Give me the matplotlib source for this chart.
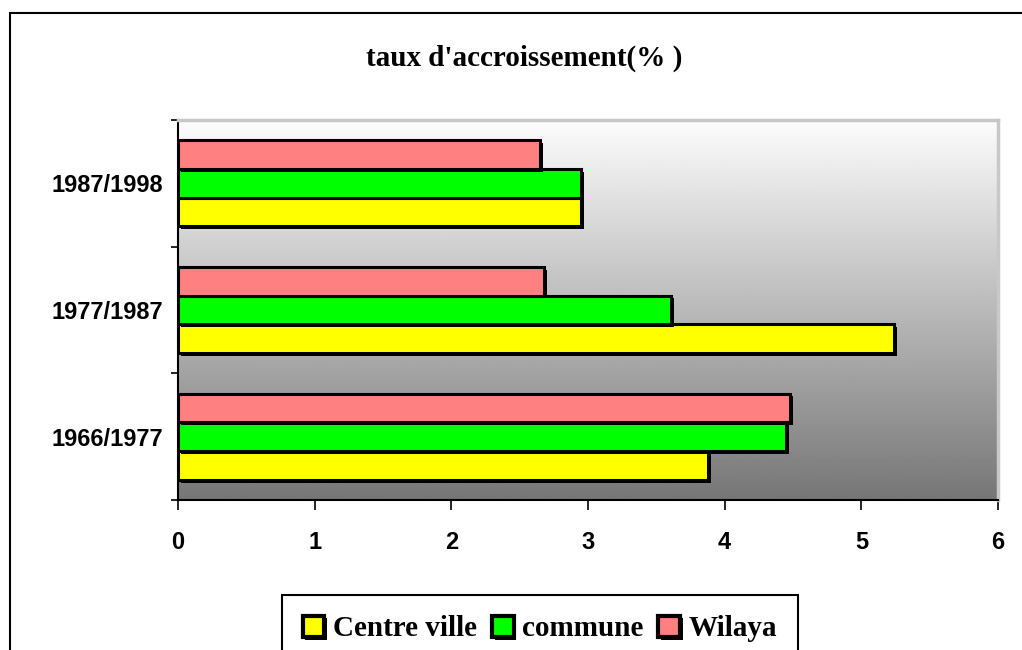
import matplotlib.pyplot as plt
import matplotlib.patheffects as pe
from matplotlib.patches import Rectangle
import numpy as np

# data
periods = ["1966/1977", "1977/1987", "1987/1998"]
series_names = ["Centre ville", "commune", "Wilaya"]
centre_ville = [3.88, 5.24, 2.95]
commune = [4.45, 3.61, 2.95]
wilaya = [4.48, 2.68, 2.65]
bar_colors = ["#ffff00", "#00ff00", "#ff8080"]

serif = ["Liberation Serif", "DejaVu Serif"]
sans = ["Liberation Sans", "DejaVu Sans"]

fig = plt.figure(figsize=(10.22, 6.5), dpi=100)
ax = fig.add_axes([0.1742, 0.2308, 0.8023, 0.5846])

# grey gradient background, white at top, dark grey at bottom
grad = np.linspace(1, 0, 256).reshape(-1, 1)
ax.imshow(grad, cmap="gray", vmin=-0.88, vmax=1.02, aspect="auto",
          extent=[0, 6, -0.5, 2.5], zorder=0)

y = np.arange(len(periods))
h = 0.227
shadow = [pe.SimplePatchShadow(offset=(2, -2), shadow_rgbFace="black", alpha=1.0), pe.Normal()]
for i, (vals, col, name) in enumerate(zip([centre_ville, commune, wilaya], bar_colors, series_names)):
    bars = ax.barh(y + (i - 1) * h, vals, height=h, color=col, edgecolor="black",
                   linewidth=2.2, label=name, zorder=3)
    for b in bars:
        b.set_path_effects(shadow)

ax.set_xlim(0, 6)
ax.set_ylim(-0.5, 2.5)
ax.set_xticks(range(0, 7))
ax.set_yticks(y)
ax.set_yticklabels(periods)
ax.set_yticks([-0.5, 0.5, 1.5, 2.5], minor=True)
ax.tick_params(axis="y", which="major", length=0, pad=11)
ax.tick_params(axis="y", which="minor", length=5, width=1.2, direction="out")
ax.tick_params(axis="x", length=7, width=1.2, direction="out", pad=15)
for lab in ax.get_xticklabels() + ax.get_yticklabels():
    lab.set_fontfamily(sans)
    lab.set_fontweight("bold")
    lab.set_fontsize(17)

for s in ["top", "right"]:
    ax.spines[s].set_color("#c8c8c8")
    ax.spines[s].set_linewidth(2.5)
for s in ["left", "bottom"]:
    ax.spines[s].set_color("black")
    ax.spines[s].set_linewidth(1.5)

fig.text(524 / 1022, 1 - 58 / 650, "taux d'accroissement(% )", ha="center", va="center",
         family=serif, fontweight="bold", fontsize=21)

# outer chart frame
fig.patches.append(Rectangle((10 / 1022, -0.05), 1.1, 0.98 + 0.05, transform=fig.transFigure,
                             fill=False, edgecolor="black", linewidth=1.5))

leg = fig.legend(loc="upper center", bbox_to_anchor=(540 / 1022, 1 - 595 / 650), ncol=3,
                 prop={"family": serif, "weight": "bold", "size": 21}, frameon=True,
                 fancybox=False, edgecolor="black", framealpha=1, handlelength=0.75,
                 handleheight=0.75, handletextpad=0.3, columnspacing=0.5, borderpad=0.7,
                 borderaxespad=0)
leg.get_frame().set_linewidth(1.5)
for p in leg.get_patches():
    p.set_linewidth(3)

fig.savefig("out.png", dpi=100)
